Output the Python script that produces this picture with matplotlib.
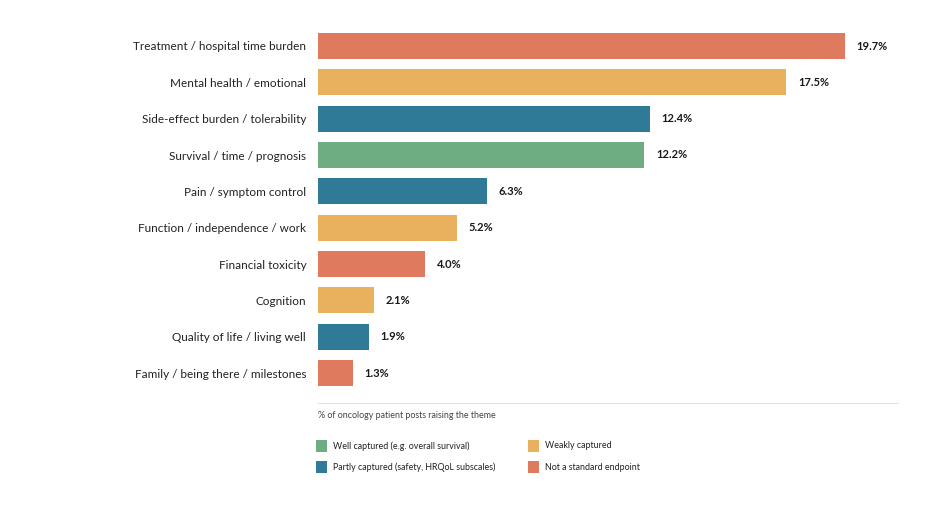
import matplotlib.pyplot as plt
from matplotlib.patches import Rectangle
from matplotlib.lines import Line2D

themes = [
    "Treatment / hospital time burden",
    "Mental health / emotional",
    "Side-effect burden / tolerability",
    "Survival / time / prognosis",
    "Pain / symptom control",
    "Function / independence / work",
    "Financial toxicity",
    "Cognition",
    "Quality of life / living well",
    "Family / being there / milestones",
]
shares = [19.7, 17.5, 12.4, 12.2, 6.3, 5.2, 4.0, 2.1, 1.9, 1.3]
capture = ["not", "weak", "partly", "well", "partly", "weak", "not", "weak", "partly", "not"]

legend_keys = ["well", "partly", "weak", "not"]
legend_labels = [
    "Well captured (e.g. overall survival)",
    "Partly captured (safety, HRQoL subscales)",
    "Weakly captured",
    "Not a standard endpoint",
]
palette = {"well": "#6EAC82", "partly": "#2F7B97", "weak": "#E9B15E", "not": "#E07A5F"}

plt.rcParams['font.family'] = ['Lato', 'DejaVu Sans']

fig = plt.figure(figsize=(9.36, 5.28), dpi=100)
W, H = 936, 528
ax = fig.add_axes([318 / W, 1 - 394.8 / H, (898 - 318) / W, 370.6 / H])

ypos = list(range(len(themes)))
ax.barh(ypos, shares, height=0.72, color=[palette[c] for c in capture], linewidth=0)
ax.set_xlim(0, (898 - 318) / 26.75)
ax.set_ylim(9.6, -0.6)

for y, v in zip(ypos, shares):
    ax.annotate(f"{v:.1f}%", (v, y), xytext=(8.5, 0), textcoords="offset points",
                va="center", ha="left", fontsize=8, fontweight="bold", color="#1a1a1a")

ax.set_yticks(ypos)
ax.set_yticklabels(themes, fontsize=8.5, color="#222222")
ax.tick_params(axis="y", length=0, pad=8.5)
ax.set_xticks([])
for s in ax.spines.values():
    s.set_visible(False)

# separator line and caption
fig.add_artist(Line2D([318 / W, 898 / W], [1 - 403 / H, 1 - 403 / H], color="#e3e3e3", lw=0.8))
fig.text(318 / W, 1 - 415 / H, "% of oncology patient posts raising the theme",
         fontsize=6.4, color="#444444", va="center", ha="left")

# legend
pos = [(316, 446), (316, 467), (528, 446), (528, 467)]
for key, lab, (px, py) in zip(legend_keys, legend_labels, pos):
    fig.add_artist(Rectangle((px / W, 1 - (py + 6) / H), 11 / W, 12 / H,
                             transform=fig.transFigure, color=palette[key], lw=0))
    fig.text((px + 17) / W, 1 - py / H, lab, fontsize=6.4, color="#222222",
             va="center", ha="left")

fig.savefig("out.png", dpi=100)
